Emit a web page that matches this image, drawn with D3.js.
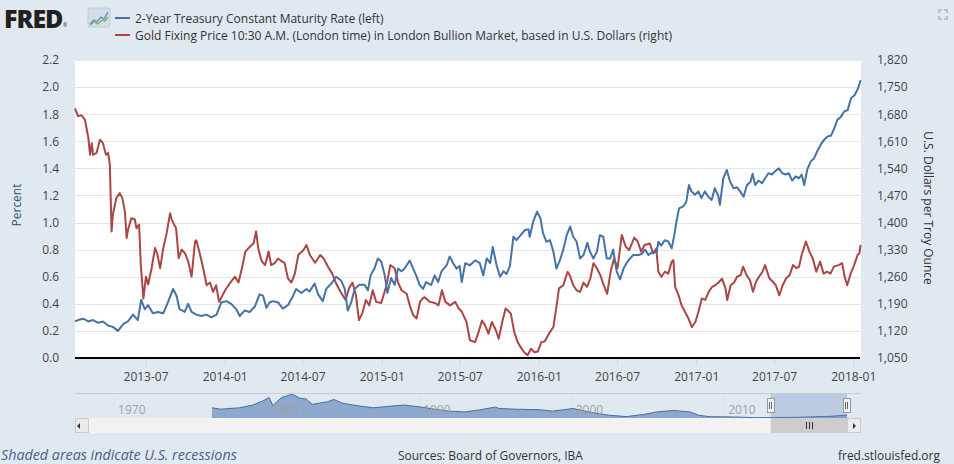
<!DOCTYPE html>
<html><head><meta charset="utf-8">
<script src="https://cdn.jsdelivr.net/npm/d3@7"></script>
<style>
html,body{margin:0;padding:0;background:#e1e9f0;}
svg{display:block;font-family:"Open Sans",sans-serif;}
</style></head>
<body>
<svg id="c" width="954" height="464"></svg>
<script>
// ---------- DATA ----------
const seriesNames = ["2-Year Treasury Constant Maturity Rate (left)",
  "Gold Fixing Price 10:30 A.M. (London time) in London Bullion Market, based in U.S. Dollars (right)"];
const leftTicks = [0,0.2,0.4,0.6,0.8,1.0,1.2,1.4,1.6,1.8,2.0,2.2];
const rightTicks = [1050,1120,1190,1260,1330,1400,1470,1540,1610,1680,1750,1820];
const xTicks = ["2013-07-01","2014-01-01","2014-07-01","2015-01-01","2015-07-01","2016-01-01","2016-07-01","2017-01-01","2017-07-01","2018-01-01"];
const xDomain = ["2013-01-18","2018-01-19"];
const navTicks = ["1970-01-01","1980-01-01","1990-01-01","2000-01-01","2010-01-01"];
const navDomain = ["1967-06-10","2018-01-19"];

const treasury = [
["2013-01-18",0.27],["2013-01-25",0.28],["2013-02-06",0.29],["2013-02-18",0.27],["2013-03-01",0.28],["2013-03-13",0.26],
["2013-03-24",0.27],["2013-04-05",0.24],["2013-04-16",0.23],["2013-04-28",0.20],["2013-05-10",0.25],["2013-05-21",0.27],
["2013-06-02",0.32],["2013-06-13",0.28],["2013-06-21",0.43],["2013-06-29",0.36],["2013-07-07",0.39],["2013-07-18",0.33],
["2013-07-30",0.34],["2013-08-11",0.33],["2013-08-22",0.41],["2013-09-03",0.51],["2013-09-11",0.46],["2013-09-18",0.36],
["2013-09-30",0.34],["2013-10-08",0.40],["2013-10-16",0.34],["2013-10-27",0.32],["2013-11-08",0.31],["2013-11-19",0.32],
["2013-12-01",0.30],["2013-12-13",0.32],["2013-12-24",0.41],["2014-01-05",0.42],["2014-01-16",0.40],["2014-01-28",0.36],
["2014-02-05",0.31],["2014-02-16",0.35],["2014-02-28",0.34],["2014-03-12",0.38],["2014-03-23",0.47],["2014-03-31",0.46],
["2014-04-08",0.37],["2014-04-15",0.41],["2014-04-23",0.42],["2014-05-05",0.41],["2014-05-16",0.365],["2014-05-28",0.39],
["2014-06-09",0.46],["2014-06-16",0.51],["2014-06-28",0.48],["2014-07-10",0.51],["2014-07-17",0.49],["2014-07-29",0.55],
["2014-08-06",0.47],["2014-08-17",0.42],["2014-08-25",0.51],["2014-09-06",0.55],["2014-09-17",0.60],["2014-09-29",0.57],
["2014-10-07",0.51],["2014-10-14",0.35],["2014-10-22",0.41],["2014-10-30",0.51],["2014-11-10",0.54],["2014-11-22",0.54],
["2014-11-30",0.50],["2014-12-06",0.61],["2014-12-15",0.66],["2014-12-23",0.735],["2014-12-31",0.71],["2015-01-08",0.61],
["2015-01-14",0.48],["2015-01-23",0.59],["2015-01-31",0.54],["2015-02-08",0.66],["2015-02-16",0.64],["2015-02-23",0.66],
["2015-03-07",0.72],["2015-03-15",0.66],["2015-03-22",0.61],["2015-03-30",0.54],["2015-04-07",0.51],["2015-04-14",0.56],
["2015-04-26",0.54],["2015-05-04",0.61],["2015-05-12",0.56],["2015-05-20",0.64],["2015-06-01",0.685],["2015-06-08",0.75],
["2015-06-16",0.70],["2015-06-24",0.66],["2015-07-01",0.68],["2015-07-06",0.56],["2015-07-14",0.70],["2015-07-25",0.685],
["2015-08-06",0.72],["2015-08-17",0.70],["2015-08-25",0.61],["2015-09-02",0.735],["2015-09-10",0.70],["2015-09-16",0.82],
["2015-09-25",0.685],["2015-10-03",0.60],["2015-10-11",0.64],["2015-10-18",0.62],["2015-10-26",0.68],["2015-11-03",0.895],
["2015-11-10",0.87],["2015-11-18",0.90],["2015-11-30",0.945],["2015-12-08",0.95],["2015-12-11",0.895],["2015-12-19",1.006],
["2015-12-28",1.08],["2016-01-05",1.03],["2016-01-11",0.92],["2016-01-19",0.858],["2016-01-27",0.87],["2016-02-04",0.784],
["2016-02-11",0.66],["2016-02-19",0.72],["2016-02-27",0.80],["2016-03-06",0.907],["2016-03-14",0.97],["2016-03-21",0.895],
["2016-03-29",0.858],["2016-04-06",0.735],["2016-04-14",0.76],["2016-04-23",0.85],["2016-04-29",0.784],["2016-05-07",0.735],
["2016-05-15",0.784],["2016-05-22",0.907],["2016-05-30",0.895],["2016-06-07",0.735],["2016-06-15",0.735],["2016-06-22",0.80],
["2016-06-30",0.64],["2016-07-08",0.58],["2016-07-16",0.66],["2016-07-23",0.70],["2016-07-31",0.735],["2016-08-08",0.76],
["2016-08-20",0.76],["2016-08-28",0.77],["2016-09-04",0.80],["2016-09-12",0.76],["2016-09-20",0.78],["2016-10-01",0.78],
["2016-10-05",0.858],["2016-10-12",0.83],["2016-10-20",0.87],["2016-10-28",0.86],["2016-11-05",0.81],["2016-11-11",0.907],
["2016-11-16",1.006],["2016-11-22",1.105],["2016-12-02",1.12],["2016-12-09",1.154],["2016-12-15",1.277],["2016-12-21",1.23],
["2016-12-29",1.205],["2017-01-06",1.23],["2017-01-13",1.18],["2017-01-21",1.23],["2017-01-29",1.19],["2017-02-06",1.167],
["2017-02-13",1.253],["2017-02-21",1.20],["2017-02-25",1.13],["2017-03-05",1.327],["2017-03-13",1.388],["2017-03-21",1.30],
["2017-03-29",1.253],["2017-04-06",1.26],["2017-04-13",1.23],["2017-04-21",1.19],["2017-04-29",1.277],["2017-05-07",1.30],
["2017-05-12",1.36],["2017-05-18",1.277],["2017-05-26",1.31],["2017-06-03",1.29],["2017-06-10",1.327],["2017-06-18",1.364],
["2017-06-26",1.355],["2017-07-04",1.38],["2017-07-12",1.40],["2017-07-20",1.364],["2017-07-28",1.355],["2017-08-04",1.364],
["2017-08-12",1.31],["2017-08-20",1.34],["2017-08-28",1.327],["2017-09-03",1.355],["2017-09-09",1.277],["2017-09-16",1.39],
["2017-09-24",1.45],["2017-10-02",1.475],["2017-10-09",1.524],["2017-10-17",1.573],["2017-10-25",1.61],["2017-11-02",1.635],
["2017-11-10",1.64],["2017-11-18",1.697],["2017-11-25",1.758],["2017-12-03",1.78],["2017-12-11",1.82],["2017-12-19",1.83],
["2017-12-27",1.92],["2018-01-04",1.94],["2018-01-12",1.99],["2018-01-18",2.05]];

const gold = [
["2013-01-18",1695],["2013-01-25",1675],["2013-02-02",1677],["2013-02-10",1666],["2013-02-18",1619],["2013-02-22",1575],
["2013-02-26",1605],["2013-03-01",1575],["2013-03-09",1580],["2013-03-17",1614],["2013-03-24",1605],["2013-03-31",1575],
["2013-04-05",1580],["2013-04-09",1549],["2013-04-13",1377],["2013-04-16",1420],["2013-04-24",1463],["2013-05-02",1476],
["2013-05-08",1463],["2013-05-14",1428],["2013-05-18",1360],["2013-05-21",1380],["2013-05-29",1411],["2013-06-06",1408],
["2013-06-10",1385],["2013-06-16",1395],["2013-06-20",1290],["2013-06-26",1204],["2013-07-02",1260],["2013-07-07",1240],
["2013-07-15",1282],["2013-07-23",1334],["2013-07-28",1320],["2013-08-04",1282],["2013-08-11",1333],["2013-08-19",1372],
["2013-08-27",1424],["2013-08-31",1407],["2013-09-10",1385],["2013-09-16",1308],["2013-09-23",1330],["2013-10-01",1320],
["2013-10-08",1300],["2013-10-16",1260],["2013-10-24",1351],["2013-10-27",1354],["2013-11-04",1320],["2013-11-12",1282],
["2013-11-20",1238],["2013-11-28",1245],["2013-12-05",1221],["2013-12-12",1238],["2013-12-19",1195],["2014-01-02",1225],
["2014-01-14",1245],["2014-01-25",1260],["2014-02-02",1245],["2014-02-10",1282],["2014-02-18",1325],["2014-03-01",1338],
["2014-03-09",1346],["2014-03-15",1377],["2014-03-20",1333],["2014-03-28",1300],["2014-04-05",1290],["2014-04-13",1325],
["2014-04-19",1290],["2014-04-27",1295],["2014-05-05",1307],["2014-05-13",1300],["2014-05-20",1296],["2014-05-28",1256],
["2014-06-05",1245],["2014-06-13",1268],["2014-06-21",1316],["2014-07-03",1329],["2014-07-10",1342],["2014-07-18",1316],
["2014-07-30",1296],["2014-08-11",1316],["2014-08-19",1307],["2014-08-31",1282],["2014-09-08",1268],["2014-09-16",1245],
["2014-09-27",1221],["2014-10-09",1200],["2014-10-17",1230],["2014-10-25",1245],["2014-11-02",1212],["2014-11-09",1148],
["2014-11-17",1166],["2014-11-25",1200],["2014-12-03",1186],["2014-12-11",1225],["2014-12-19",1195],["2014-12-31",1192],
["2015-01-12",1238],["2015-01-21",1290],["2015-01-31",1282],["2015-02-08",1245],["2015-02-16",1225],["2015-02-28",1216],
["2015-03-07",1186],["2015-03-15",1161],["2015-03-23",1152],["2015-03-31",1195],["2015-04-06",1204],["2015-04-11",1207],
["2015-04-23",1195],["2015-05-05",1192],["2015-05-13",1186],["2015-05-21",1225],["2015-05-29",1195],["2015-06-09",1186],
["2015-06-21",1195],["2015-06-29",1178],["2015-07-06",1170],["2015-07-10",1160],["2015-07-17",1143],["2015-07-25",1096],
["2015-08-06",1091],["2015-08-14",1117],["2015-08-22",1147],["2015-08-29",1135],["2015-09-06",1113],["2015-09-14",1143],
["2015-09-22",1125],["2015-09-30",1100],["2015-10-08",1143],["2015-10-16",1178],["2015-10-28",1165],["2015-11-05",1117],
["2015-11-13",1091],["2015-11-20",1078],["2015-11-28",1065],["2015-12-06",1057],["2015-12-14",1074],["2015-12-22",1065],
["2015-12-30",1067],["2016-01-07",1091],["2016-01-15",1093],["2016-01-27",1117],["2016-02-04",1130],["2016-02-11",1182],
["2016-02-17",1230],["2016-02-27",1238],["2016-03-08",1273],["2016-03-13",1264],["2016-03-21",1238],["2016-03-29",1225],
["2016-04-06",1221],["2016-04-14",1245],["2016-04-22",1234],["2016-04-30",1256],["2016-05-07",1295],["2016-05-15",1282],
["2016-05-23",1264],["2016-05-31",1238],["2016-06-08",1216],["2016-06-16",1273],["2016-06-24",1307],["2016-07-02",1282],
["2016-07-12",1368],["2016-07-21",1338],["2016-07-29",1329],["2016-08-10",1361],["2016-08-18",1351],["2016-08-26",1325],
["2016-09-03",1342],["2016-09-15",1346],["2016-09-23",1320],["2016-09-30",1333],["2016-10-05",1273],["2016-10-12",1260],
["2016-10-20",1273],["2016-10-28",1268],["2016-11-05",1299],["2016-11-09",1303],["2016-11-13",1234],["2016-11-21",1212],
["2016-11-28",1186],["2016-12-06",1169],["2016-12-14",1152],["2016-12-22",1130],["2016-12-30",1143],["2017-01-06",1169],
["2017-01-14",1204],["2017-01-22",1200],["2017-01-30",1221],["2017-02-07",1234],["2017-02-14",1238],["2017-02-22",1245],
["2017-03-02",1255],["2017-03-10",1230],["2017-03-14",1200],["2017-03-22",1238],["2017-03-30",1245],["2017-04-06",1260],
["2017-04-14",1264],["2017-04-20",1286],["2017-04-28",1264],["2017-05-06",1251],["2017-05-13",1221],["2017-05-20",1247],
["2017-05-27",1260],["2017-06-04",1273],["2017-06-10",1290],["2017-06-20",1256],["2017-06-28",1247],["2017-07-05",1238],
["2017-07-13",1212],["2017-07-21",1238],["2017-07-29",1256],["2017-08-06",1264],["2017-08-14",1290],["2017-08-22",1282],
["2017-08-28",1286],["2017-09-03",1316],["2017-09-13",1351],["2017-09-21",1325],["2017-09-29",1307],["2017-10-07",1273],
["2017-10-16",1299],["2017-10-24",1268],["2017-11-01",1273],["2017-11-09",1268],["2017-11-17",1286],["2017-11-28",1290],
["2017-12-06",1295],["2017-12-12",1260],["2017-12-18",1238],["2017-12-26",1268],["2018-01-03",1290],["2018-01-11",1316],
["2018-01-15",1320],["2018-01-18",1342]];

// navigator: 2-year treasury, long history
const navSeries = [
["1976-06-01",7.2],["1977-01-01",6.2],["1977-06-01",6.6],["1978-04-01",7.2],["1979-02-01",9.1],["1979-10-01",12.0],
["1980-03-01",14.4],["1980-06-01",8.6],["1980-09-01",11.5],["1981-01-01",14.4],["1981-09-01",16.8],["1982-03-01",14.0],
["1982-08-01",13.4],["1983-01-01",9.6],["1984-01-01",11.5],["1984-06-01",13.0],["1985-01-01",10.3],["1986-01-01",8.6],
["1987-01-01",7.2],["1988-01-01",8.2],["1989-01-01",9.1],["1990-01-01",7.9],["1991-01-01",6.2],["1992-01-01",4.8],
["1993-01-01",4.3],["1994-01-01",5.8],["1995-01-01",7.7],["1995-04-01",6.7],["1996-05-01",6.2],["1997-12-01",5.8],
["1998-10-01",4.8],["2000-02-01",6.7],["2001-05-01",3.8],["2002-07-01",1.9],["2003-08-01",1.0],["2004-09-01",2.4],
["2005-08-01",4.3],["2006-09-01",5.3],["2007-10-01",4.3],["2008-05-01",1.9],["2009-02-01",0.9],["2010-01-01",0.8],
["2011-01-01",0.6],["2012-01-01",0.25],["2013-01-01",0.27],["2014-01-01",0.40],["2015-01-01",0.55],["2016-01-01",0.9],
["2017-01-01",1.2],["2018-01-18",2.05]];

// ---------- CHART ----------
const svg = d3.select("#c");
const parse = d3.timeParse("%Y-%m-%d");
const blue = "#4572a7", red = "#aa4643";
const P = {l:75, r:861, t:60, b:358};

const x = d3.scaleTime().domain(xDomain.map(parse)).range([P.l, P.r]);
const yL = d3.scaleLinear().domain([0,2.2]).range([P.b, P.t]);
const yR = d3.scaleLinear().domain([1050,1820]).range([P.b, P.t]);

svg.append("rect").attr("x",P.l).attr("y",P.t).attr("width",P.r-P.l).attr("height",P.b-P.t).attr("fill","#fff");

// gridlines
svg.append("g").selectAll("line").data(leftTicks.filter(d=>d>0)).join("line")
  .attr("x1",P.l).attr("x2",P.r).attr("y1",d=>Math.round(yL(d))+0.5).attr("y2",d=>Math.round(yL(d))+0.5)
  .attr("stroke","#e6e6e6").attr("stroke-width",1);

// left axis
const gL = svg.append("g").attr("transform",`translate(${P.l-13},0)`)
  .call(d3.axisLeft(yL).tickValues(leftTicks).tickFormat(d3.format(".1f")).tickSize(0));
gL.select(".domain").remove();
gL.selectAll("text").attr("font-size",12).attr("fill","#444").attr("font-family","Open Sans");

// right axis
const gR = svg.append("g").attr("transform",`translate(${P.r+16},0)`)
  .call(d3.axisRight(yR).tickValues(rightTicks).tickFormat(d3.format(",")).tickSize(0));
gR.select(".domain").remove();
gR.selectAll("text").attr("font-size",12).attr("fill","#444").attr("font-family","Open Sans").attr("x",0);

// bottom axis
const gB = svg.append("g").attr("transform",`translate(0,${P.b})`)
  .call(d3.axisBottom(x).tickValues(xTicks.map(parse)).tickFormat(d3.timeFormat("%Y-%m")).tickSize(8).tickPadding(6));
gB.select(".domain").remove();
gB.selectAll("line").attr("stroke","#ccd6eb");
gB.selectAll("text").attr("font-size",12).attr("fill","#444").attr("font-family","Open Sans");
svg.append("line").attr("x1",P.l).attr("x2",P.r-1).attr("y1",P.b).attr("y2",P.b).attr("stroke","#000").attr("stroke-width",2);

// axis titles
svg.append("text").attr("transform","translate(21,205) rotate(-90)").attr("text-anchor","middle")
  .attr("font-size",12).attr("fill","#34507a").text("Percent");
svg.append("text").attr("transform","translate(924,208) rotate(90)").attr("text-anchor","middle")
  .attr("font-size",12).attr("fill","#333").text("U.S. Dollars per Troy Ounce");

// lines
const lineL = d3.line().x(d=>x(parse(d[0]))).y(d=>yL(d[1]));
const lineR = d3.line().x(d=>x(parse(d[0]))).y(d=>yR(d[1]));
svg.append("path").datum(gold).attr("d",lineR).attr("fill","none").attr("stroke",red).attr("stroke-width",2).attr("stroke-linejoin","round");
svg.append("path").datum(treasury).attr("d",lineL).attr("fill","none").attr("stroke",blue).attr("stroke-width",2).attr("stroke-linejoin","round");

// ---------- HEADER ----------
svg.append("text").attr("x",4).attr("y",28).attr("font-size",25).attr("font-weight",800)
  .attr("letter-spacing",-1).attr("fill","#231f20").text("FRED");
svg.append("text").attr("x",63).attr("y",27).attr("font-size",5).attr("fill","#231f20").text("®");
const ic = svg.append("g");
ic.append("rect").attr("x",88).attr("y",8).attr("width",22).attr("height",19).attr("rx",2).attr("fill","#d4dde6").attr("stroke","#c3ccd6");
ic.append("path").attr("d","M90,24 L94,20 L97,22 L101,17 L104,19 L108,12").attr("fill","none").attr("stroke","#4e8ccf").attr("stroke-width",1.3);
ic.append("path").attr("d","M90,25 L94,22 L98,24 L102,20 L105,21 L108,17").attr("fill","none").attr("stroke","#7bb447").attr("stroke-width",1.3);

function fit(sel, w){ const n=sel.node(); const cur=+sel.attr("font-size"); const m=n.getComputedTextLength(); sel.attr("font-size", cur*w/m); }

const legY = [18,35];
[blue, red].forEach((c,i)=>{
  svg.append("line").attr("x1",115).attr("x2",130).attr("y1",legY[i]).attr("y2",legY[i]).attr("stroke",c).attr("stroke-width",2);
  const t = svg.append("text").attr("x",135).attr("y",legY[i]+4.5).attr("font-size",12).attr("fill","#333").text(seriesNames[i]);
  fit(t, i===0 ? 249 : 538);
});

// expand icon
const ex = svg.append("g").attr("fill","none").attr("stroke","#8aa0b4").attr("stroke-width",1.2);
ex.append("path").attr("d","M939,13 L939,10 L942,10 M944,10 L947,10 L947,13 M947,16 L947,19 L944,19 M942,19 L939,19 L939,16");

// ---------- NAVIGATOR ----------
const nx = d3.scaleTime().domain(navDomain.map(parse)).range([P.l, 847]);
const ny = d3.scaleLinear().domain([0,17.6]).range([418,393]);
svg.append("g").selectAll("line").data(navTicks).join("line")
  .attr("x1",d=>Math.round(nx(parse(d)))+0.5).attr("x2",d=>Math.round(nx(parse(d)))+0.5).attr("y1",393).attr("y2",418)
  .attr("stroke","#dde3ea");
svg.append("path").datum(navSeries)
  .attr("d", d3.area().x(d=>nx(parse(d[0]))).y0(418).y1(d=>ny(d[1])))
  .attr("fill","#8ea9cd");
svg.append("path").datum(navSeries)
  .attr("d", d3.line().x(d=>nx(parse(d[0]))).y(d=>ny(d[1])))
  .attr("fill","none").attr("stroke","#3f6ea8").attr("stroke-width",1);
svg.append("g").selectAll("text").data(navTicks).join("text")
  .attr("x",d=>nx(parse(d))+4).attr("y",414).attr("font-size",12).attr("fill","#a0a0a0")
  .text(d=>d.slice(0,4));
// selected range mask
const s0 = nx(parse(xDomain[0])), s1 = nx(parse(xDomain[1]));
svg.append("rect").attr("x",s0).attr("y",393).attr("width",s1-s0).attr("height",25).attr("fill","rgba(102,133,194,0.3)");
svg.append("line").attr("x1",P.l).attr("x2",P.r).attr("y1",393.5).attr("y2",393.5).attr("stroke","#cccccc");
// scrollbar
svg.append("rect").attr("x",P.l).attr("y",418).attr("width",P.r-P.l).attr("height",15).attr("fill","#f2f2f2");
svg.append("rect").attr("x",s0).attr("y",418).attr("width",s1-s0).attr("height",15).attr("fill","#cccccc");
[[P.l,"M80,423 L80,429 L77,426 Z"],[s1,"M853,423 L853,429 L856,426 Z"]].forEach(([bx,p])=>{
  svg.append("rect").attr("x",bx+0.5).attr("y",418.5).attr("width",13).attr("height",14).attr("fill","#ebebeb").attr("stroke","#cccccc");
  svg.append("path").attr("d",p).attr("fill","#333");
});
const gm = (s0+s1)/2;
[-3,0,3].forEach(o=>svg.append("line").attr("x1",Math.round(gm+o)+0.5).attr("x2",Math.round(gm+o)+0.5).attr("y1",422).attr("y2",429).attr("stroke","#333"));
// handles
[s0,s1].forEach(hx=>{
  svg.append("rect").attr("x",Math.round(hx)-3.5).attr("y",398.5).attr("width",7).attr("height",14).attr("fill","#f2f2f2").attr("stroke","#999");
  [-1,1].forEach(o=>svg.append("line").attr("x1",Math.round(hx)+o-0.5).attr("x2",Math.round(hx)+o-0.5).attr("y1",402).attr("y2",409).attr("stroke","#666"));
});

// ---------- FOOTER ----------
const f1 = svg.append("text").attr("x",1).attr("y",460).attr("font-size",12).attr("font-style","italic").attr("fill","#4a5f8a").text("Shaded areas indicate U.S. recessions");
fit(f1, 236);
const f2 = svg.append("text").attr("x",398).attr("y",460).attr("font-size",12).attr("fill","#333").text("Sources: Board of Governors, IBA");
fit(f2, 185);
const f3 = svg.append("text").attr("x",838).attr("y",460).attr("font-size",12).attr("fill","#333").text("fred.stlouisfed.org");
fit(f3, 102);
</script>
</body></html>
